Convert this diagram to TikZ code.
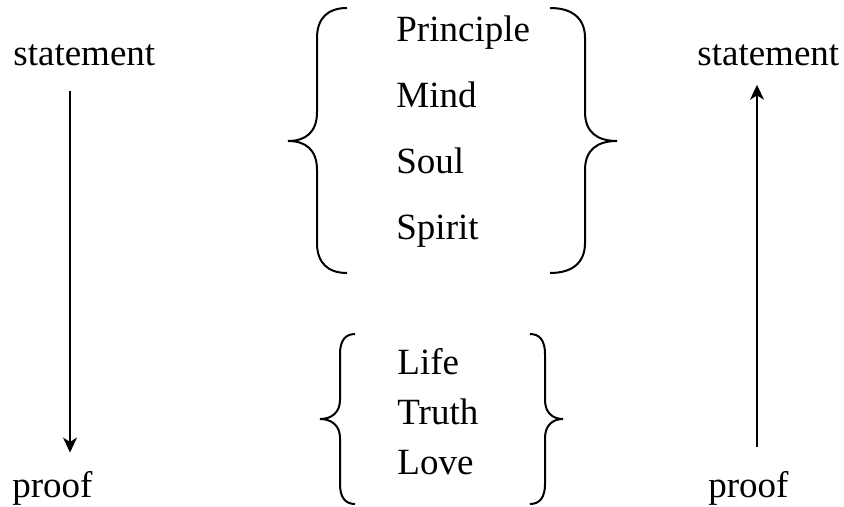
\documentclass[tikz,border=0pt]{standalone}
\usepackage{fontspec}
\setmainfont{Liberation Serif}
\usetikzlibrary{arrows.meta,positioning}
\tikzset{
  word/.style={inner sep=0pt, anchor=base west, font=\fontsize{18.5}{22}\selectfont},
  wide/.style={word, below=33pt of #1.base west, anchor=base west},
  tight/.style={word, below=25pt of #1.base west, anchor=base west},
  flow/.style={-{Stealth[length=7.5pt,width=7pt,inset=2.2pt]}, line width=0.8pt,
               shorten <=12pt, shorten >=9pt},
  curly/.style={line width=1pt},
}
\begin{document}
\begin{tikzpicture}[x=0.5pt,y=-0.5pt]
    \useasboundingbox (0,0) rectangle (844,507);
    % side columns
    \node[word] (stmtL) at (13,66) {statement};
    \node[word] (proofL) at (12,497) {proof};
    \node[word] (stmtR) at (697,66) {statement};
    \node[word] (proofR) at (708,497) {proof};
    \coordinate (colL) at (70,0);
    \coordinate (colR) at (757,0);
    \draw[flow] (stmtL.south -| colL) -- (proofL.north -| colL);
    \draw[flow] (proofR.north -| colR) -- (stmtR.south -| colR);
    % upper group
    \node[word] (principle) at (396,42) {Principle};
    \node[wide=principle] (mind) {Mind};
    \node[wide=mind] (soul) {Soul};
    \node[wide=soul] (spirit) {Spirit};
    \draw[curly] (347,8) .. controls (328,8) and (317,18) .. (317,38) -- (317,112)
      .. controls (317,132) and (306,141) .. (288,141)
      .. controls (306,141) and (317,150) .. (317,170) -- (317,243)
      .. controls (317,263) and (328,273) .. (347,273);
    \draw[curly] (550,8) .. controls (572,8) and (585,18) .. (585,38) -- (585,112)
      .. controls (585,132) and (597,141) .. (617,141)
      .. controls (597,141) and (585,150) .. (585,170) -- (585,243)
      .. controls (585,263) and (572,273) .. (550,273);
    % lower group
    \node[word] (life) at (397,374) {Life};
    \node[tight=life] (truth) {Truth};
    \node[tight=truth] (love) {Love};
    \draw[curly] (355,334) .. controls (345,334) and (340,341) .. (340,354) -- (340,400)
      .. controls (340,412) and (332,419) .. (320,419)
      .. controls (332,419) and (340,426) .. (340,438) -- (340,484)
      .. controls (340,497) and (345,504) .. (355,504);
    \draw[curly] (530,334) .. controls (540,334) and (545,341) .. (545,354) -- (545,400)
      .. controls (545,412) and (552,419) .. (563,419)
      .. controls (552,419) and (545,426) .. (545,438) -- (545,484)
      .. controls (545,497) and (540,504) .. (530,504);
\end{tikzpicture}
\end{document}
